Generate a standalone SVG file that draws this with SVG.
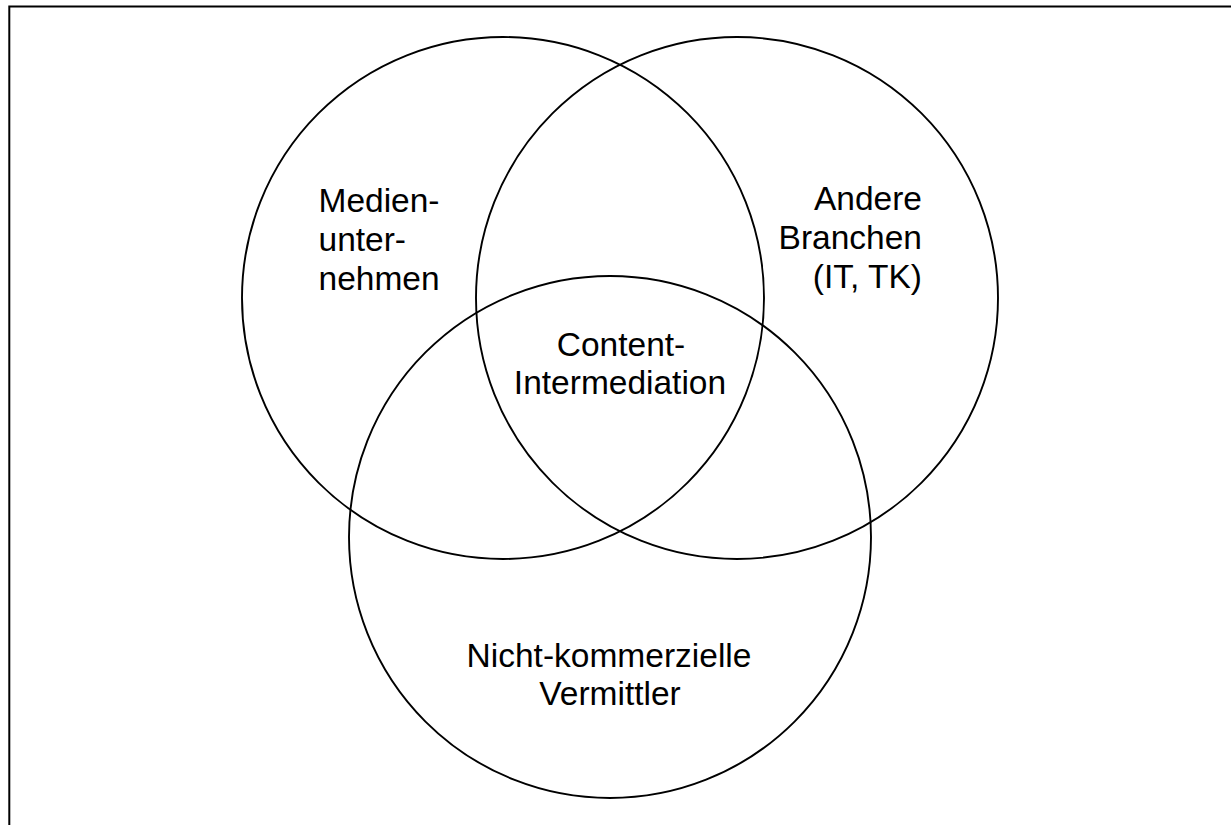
<svg xmlns="http://www.w3.org/2000/svg" width="1231" height="825" viewBox="0 0 1231 825">
<style>
.c{fill:none;stroke:#000;stroke-width:1.9}
.t{font-family:"Liberation Sans",Arial,sans-serif;font-size:33.5px;fill:#000}
</style>
<rect x="0" y="0" width="1231" height="825" fill="#fff"/>
<rect x="9.3" y="6.5" width="1300" height="900" fill="none" stroke="#000" stroke-width="2"/>
<g id="medien">
<circle class="c" cx="503" cy="298" r="261"/>
<text class="t" x="318.5" y="211.5">Medien-</text>
<text class="t" x="318.5" y="251">unter-</text>
<text class="t" x="318.5" y="290">nehmen</text>
</g>
<g id="andere">
<circle class="c" cx="737" cy="298" r="261"/>
<text class="t" x="922" y="210" text-anchor="end">Andere</text>
<text class="t" x="922" y="249" text-anchor="end">Branchen</text>
<text class="t" x="922" y="288" text-anchor="end">(IT, TK)</text>
</g>
<g id="nicht">
<circle class="c" cx="610" cy="537" r="261"/>
<text class="t" x="609" y="667" text-anchor="middle">Nicht-kommerzielle</text>
<text class="t" x="610" y="705" text-anchor="middle">Vermittler</text>
</g>
<g id="content">
<text class="t" x="621" y="356" text-anchor="middle">Content-</text>
<text class="t" x="620" y="394" text-anchor="middle">Intermediation</text>
</g>
<g id="connectors"></g>
</svg>
